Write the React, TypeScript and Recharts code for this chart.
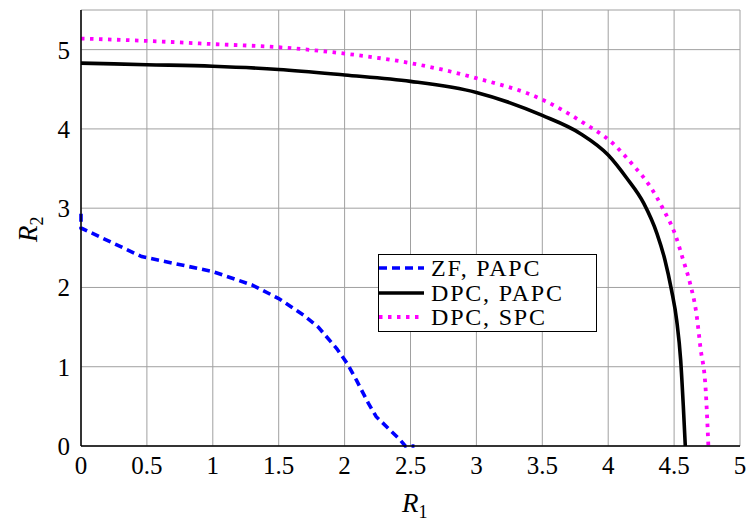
import { LineChart, Line, XAxis, YAxis, CartesianGrid } from 'recharts';

// ZF with per-antenna power constraint
const zfX = [0, 0, 0.46, 1.0, 1.3, 1.5, 1.69, 1.8, 1.94, 2.02, 2.09, 2.18, 2.24, 2.42, 2.46, 2.53];
const zfY = [2.93, 2.75, 2.39, 2.2, 2.03, 1.86, 1.65, 1.5, 1.23, 1.04, 0.83, 0.54, 0.37, 0.08, 0, 0];

// DPC with per-antenna power constraint
const papcX = [0, 0.5, 1, 1.5, 2, 2.5, 3, 3.5, 3.79, 4, 4.14, 4.27, 4.37, 4.43, 4.48, 4.52, 4.55, 4.57, 4.585];
const papcY = [4.83, 4.81, 4.79, 4.75, 4.68, 4.6, 4.46, 4.17, 3.94, 3.67, 3.38, 3.06, 2.68, 2.35, 1.97, 1.58, 1.08, 0.5, 0];

// DPC with sum power constraint
const spcX = [0, 0.5, 1, 1.5, 2, 2.5, 3, 3.5, 3.8, 4.04, 4.18, 4.32, 4.42, 4.51, 4.57, 4.62, 4.67, 4.7, 4.74, 4.76];
const spcY = [5.14, 5.11, 5.07, 5.03, 4.95, 4.83, 4.64, 4.37, 4.09, 3.81, 3.56, 3.27, 2.98, 2.66, 2.34, 2.06, 1.66, 1.24, 0.7, 0];

const xTicks = [0, 0.5, 1, 1.5, 2, 2.5, 3, 3.5, 4, 4.5, 5];
const yTicks = [0, 1, 2, 3, 4, 5];

const toPoints = (xs: number[], ys: number[]) => xs.map((x, i) => ({ x, y: ys[i] }));

const zfData = toPoints(zfX, zfY);
const papcData = toPoints(papcX, papcY);
const spcData = toPoints(spcX, spcY);

const FONT = 'Liberation Serif, DejaVu Serif, serif';

const series = [
    { name: 'ZF, PAPC', color: '#0000ff', dash: '8 5', width: 3.6 },
    { name: 'DPC, PAPC', color: '#000000', dash: undefined, width: 3.6 },
    { name: 'DPC, SPC', color: '#ff00ff', dash: '3.5 5.5', width: 3.8 },
];

function LegendBox() {
    return (
        <div
            style={{
                position: 'absolute',
                left: 378,
                top: 254,
                width: 219,
                height: 78,
                boxSizing: 'border-box',
                border: '1.2px solid #000',
                background: '#fff',
                fontFamily: FONT,
                fontSize: 24,
                lineHeight: '24.5px',
                paddingTop: 1,
            }}
        >
            {series.map(s => (
                <div key={s.name} style={{ display: 'flex', alignItems: 'center', height: 24.5 }}>
                    <svg width={48} height={10} style={{ flex: 'none' }}>
                        <line x1={0} y1={5} x2={45} y2={5} stroke={s.color} strokeWidth={s.width} strokeDasharray={s.dash} />
                    </svg>
                    <span style={{ marginLeft: 4, whiteSpace: 'nowrap', letterSpacing: 1.8 }}>{s.name}</span>
                </div>
            ))}
        </div>
    );
}

export default function App() {
    return (
        <div style={{ position: 'absolute', left: 0, top: 0, width: 749, height: 522, background: '#fff', fontFamily: FONT }}>
            <LineChart width={749} height={522} margin={{ top: 10, right: 9, left: 0, bottom: 0 }} style={{ fontFamily: FONT }}>
                <CartesianGrid stroke="#a0a0a0" strokeWidth={1} />
                <XAxis
                    dataKey="x"
                    type="number"
                    domain={[0, 5]}
                    ticks={xTicks}
                    allowDuplicatedCategory={false}
                    height={76}
                    tickSize={0}
                    tickMargin={10}
                    axisLine={{ stroke: '#000', strokeWidth: 1.5 }}
                    tick={{ fill: '#000', fontFamily: FONT, fontSize: 25 }}
                    label={{
                        content: () => (
                            <text x={402} y={512} fontFamily={FONT} fill="#000">
                                <tspan fontSize={27} fontStyle="italic">R</tspan>
                                <tspan fontSize={18} dy={6}>1</tspan>
                            </text>
                        ),
                    }}
                />
                <YAxis
                    type="number"
                    domain={[0, 5.5]}
                    ticks={yTicks}
                    width={81}
                    tickSize={0}
                    tickMargin={11}
                    axisLine={{ stroke: '#000', strokeWidth: 1.5 }}
                    tick={{ fill: '#000', fontFamily: FONT, fontSize: 25 }}
                    label={{
                        content: () => (
                            <text x={37} y={242} fontFamily={FONT} fill="#000" transform="rotate(-90 37 242)">
                                <tspan fontSize={27} fontStyle="italic">R</tspan>
                                <tspan fontSize={18} dy={6}>2</tspan>
                            </text>
                        ),
                    }}
                />
                <XAxis xAxisId="top" orientation="top" type="number" domain={[0, 5]} height={0} tick={false} tickLine={false} axisLine={{ stroke: '#000', strokeWidth: 1.5 }} />
                <YAxis yAxisId="right" orientation="right" type="number" domain={[0, 5.5]} width={0} tick={false} tickLine={false} axisLine={{ stroke: '#000', strokeWidth: 1.5 }} />
                <Line
                    data={zfData}
                    dataKey="y"
                    type="linear"
                    stroke={series[0].color}
                    strokeWidth={series[0].width}
                    strokeDasharray={series[0].dash}
                    dot={false}
                    activeDot={false}
                    isAnimationActive={false}
                />
                <Line
                    data={papcData}
                    dataKey="y"
                    type="monotone"
                    stroke={series[1].color}
                    strokeWidth={series[1].width}
                    dot={false}
                    activeDot={false}
                    isAnimationActive={false}
                />
                <Line
                    data={spcData}
                    dataKey="y"
                    type="monotone"
                    stroke={series[2].color}
                    strokeWidth={series[2].width}
                    strokeDasharray={series[2].dash}
                    dot={false}
                    activeDot={false}
                    isAnimationActive={false}
                />
            </LineChart>
            <LegendBox />
        </div>
    );
}
